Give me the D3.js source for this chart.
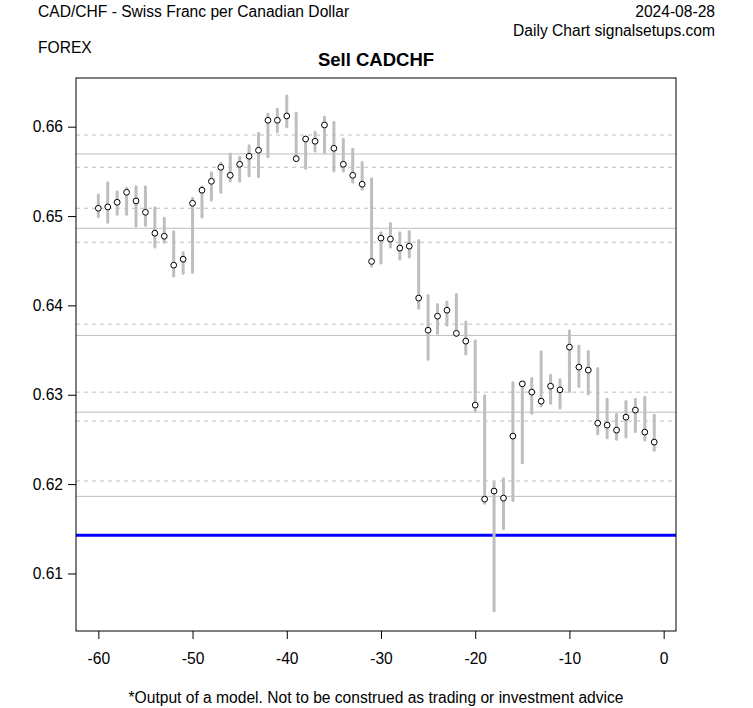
<!DOCTYPE html>
<html>
<head>
<meta charset="utf-8">
<script src="https://cdn.jsdelivr.net/npm/d3@7"></script>
<style>
html,body{margin:0;padding:0;background:#fff;}
svg text{font-family:"Liberation Sans",Arial,sans-serif;}
</style>
</head>
<body>
<svg id="chart" width="753" height="708"></svg>
<script>
// Day offsets (-60 .. -1)
const days = d3.range(-60, 0);
const highs = [0.65236,0.65374,0.65273,0.65311,0.65329,0.65329,0.65094,0.64975,0.64825,0.64591,
  0.65199,0.65329,0.65485,0.65591,0.65695,0.65658,0.65787,0.65926,0.66139,0.66195,
  0.66343,0.66150,0.65888,0.65937,0.66105,0.66049,0.65859,0.65747,0.65600,0.65417,
  0.64814,0.64917,0.64814,0.64828,0.64725,0.64110,0.64009,0.64039,0.64121,0.63815,
  0.63603,0.62988,0.62018,0.62059,0.63133,0.63133,0.63181,0.63480,0.63219,0.63167,
  0.63717,0.63547,0.63483,0.63293,0.62951,0.62778,0.62924,0.62951,0.62973,0.62772];
const lows = [0.64993,0.64931,0.65020,0.65020,0.64889,0.64897,0.64654,0.64707,0.64330,0.64360,
  0.64371,0.64990,0.65180,0.65266,0.65393,0.65393,0.65452,0.65441,0.65664,0.65944,
  0.66000,0.65633,0.65535,0.65728,0.65714,0.65504,0.65504,0.65381,0.65301,0.64442,
  0.64475,0.64654,0.64518,0.64542,0.63969,0.63398,0.63689,0.63782,0.63659,0.63455,
  0.62820,0.61787,0.60583,0.61500,0.61816,0.62238,0.62794,0.62876,0.62906,0.62853,
  0.63036,0.63092,0.63008,0.62563,0.62518,0.62503,0.62526,0.62588,0.62495,0.62380];
const closes = [0.65087,0.65102,0.65154,0.65266,0.65169,0.65042,0.64808,0.64774,0.64450,0.64517,
  0.65143,0.65289,0.65389,0.65546,0.65456,0.65579,0.65669,0.65736,0.66072,0.66072,
  0.66120,0.65642,0.65862,0.65837,0.66019,0.65758,0.65579,0.65456,0.65356,0.64492,
  0.64753,0.64742,0.64641,0.64663,0.64082,0.63722,0.63879,0.63946,0.63687,0.63600,
  0.62884,0.61832,0.61922,0.61843,0.62537,0.63122,0.63029,0.62928,0.63096,0.63055,
  0.63533,0.63309,0.63276,0.62682,0.62660,0.62604,0.62749,0.62828,0.62582,0.62470];
const dashedLevels = [0.65907,0.65546,0.65087,0.64707,0.63790,0.63029,0.62705,0.62035];
const solidLevels = [0.65695,0.64863,0.63664,0.62805,0.61863];
const signalLevel = [0.61429];
const xTicks = [-60,-50,-40,-30,-20,-10,0];
const yTicks = [0.61,0.62,0.63,0.64,0.65,0.66];

const svg = d3.select("#chart");
const L = 76, R = 676, T = 78, B = 631;
const x = d3.scaleLinear().domain([-62.37, 1.31]).range([L, R]);
const y = d3.scaleLinear().domain([0.60356, 0.66545]).range([B, T]);
const FS = 15.6;

// Header texts
svg.append("text").attr("x", 38).attr("y", 17).attr("font-size", FS).text("CAD/CHF - Swiss Franc per Canadian Dollar");
svg.append("text").attr("x", 715).attr("y", 17).attr("font-size", FS).attr("text-anchor","end").text("2024-08-28");
svg.append("text").attr("x", 715).attr("y", 36).attr("font-size", FS).attr("text-anchor","end").text("Daily Chart signalsetups.com");
svg.append("text").attr("x", 38).attr("y", 53).attr("font-size", FS).text("FOREX");
svg.append("text").attr("x", (L+R)/2).attr("y", 66).attr("font-size", 18.5).attr("font-weight","bold").attr("text-anchor","middle").text("Sell CADCHF");
svg.append("text").attr("x", (L+R)/2).attr("y", 703).attr("font-size", FS).attr("text-anchor","middle").text("*Output of a model. Not to be construed as trading or investment advice");

const g = svg.append("g");
// horizontal levels
g.selectAll("line.dash").data(dashedLevels).enter().append("line")
  .attr("x1", L).attr("x2", R).attr("y1", d=>y(d)).attr("y2", d=>y(d))
  .attr("stroke", "#BEBEBE").attr("stroke-width", 1).attr("stroke-dasharray","4,4");
g.selectAll("line.solid").data(solidLevels).enter().append("line")
  .attr("x1", L).attr("x2", R).attr("y1", d=>y(d)).attr("y2", d=>y(d))
  .attr("stroke", "#BEBEBE").attr("stroke-width", 1);
g.selectAll("line.sig").data(signalLevel).enter().append("line")
  .attr("x1", L).attr("x2", R).attr("y1", d=>y(d)).attr("y2", d=>y(d))
  .attr("stroke", "#0000FF").attr("stroke-width", 3);

// range bars
g.selectAll("line.bar").data(days).enter().append("line")
  .attr("x1", (d)=>x(d)).attr("x2", d=>x(d))
  .attr("y1", (d,i)=>y(highs[i])).attr("y2", (d,i)=>y(lows[i]))
  .attr("stroke", "#BEBEBE").attr("stroke-width", 3).attr("stroke-linecap","round");
// closes
g.selectAll("circle").data(days).enter().append("circle")
  .attr("cx", d=>x(d)).attr("cy", (d,i)=>y(closes[i])).attr("r", 2.9)
  .attr("fill", "#fff").attr("stroke", "#000").attr("stroke-width", 1);

// frame
svg.append("rect").attr("x", L).attr("y", T).attr("width", R-L).attr("height", B-T)
  .attr("fill","none").attr("stroke","#000").attr("stroke-width",1);

// axes
const xAxis = d3.axisBottom(x).tickValues(xTicks).tickSize(8).tickPadding(14).tickFormat(d => String(d));
const xa = svg.append("g").attr("transform", `translate(0,${B})`).call(xAxis);
xa.select(".domain").remove();
xa.selectAll("text").attr("font-size", FS).attr("fill","#000").attr("font-family","Liberation Sans, Arial, sans-serif");
xa.selectAll("line").attr("stroke","#000");

const yAxis = d3.axisLeft(y).tickValues(yTicks).tickSize(8).tickPadding(5).tickFormat(d => d.toFixed(2));
const ya = svg.append("g").attr("transform", `translate(${L},0)`).call(yAxis);
ya.select(".domain").remove();
ya.selectAll("text").attr("font-size", FS).attr("fill","#000").attr("font-family","Liberation Sans, Arial, sans-serif");
ya.selectAll("line").attr("stroke","#000");
</script>
</body>
</html>
